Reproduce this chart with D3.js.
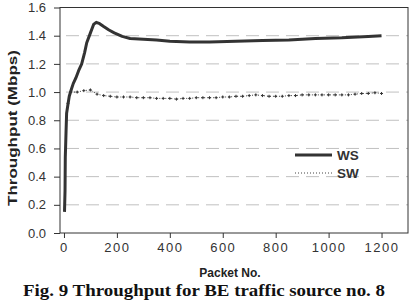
<!DOCTYPE html>
<html>
<head>
<meta charset="utf-8">
<script src="https://cdn.jsdelivr.net/npm/d3@7"></script>
<style>
  body { margin: 0; background: #fff; }
  .grid line { stroke: #c0c0c0; stroke-dasharray: 13,7; }
  .tick text { font-family: Arial, "Liberation Sans", sans-serif; font-size: 13px; fill: #333; }
  .x-axis .tick text { letter-spacing: 1.5px; }
</style>
</head>
<body>
<main></main>
<script>
// Data
const wsPackets = [2, 4, 5, 6, 8, 10, 14, 20, 28, 35, 45, 55, 67, 78, 86, 100, 112, 122, 135, 150, 170, 190, 220, 250, 300, 350, 400, 475, 550, 650, 750, 850, 950, 1050, 1150, 1200]
const wsValues = [0.15, 0.3, 0.54, 0.6, 0.73, 0.85, 0.9, 0.97, 1.02, 1.06, 1.10, 1.15, 1.20, 1.28, 1.35, 1.42, 1.48, 1.495, 1.485, 1.465, 1.44, 1.42, 1.395, 1.38, 1.375, 1.37, 1.36, 1.355, 1.355, 1.36, 1.365, 1.37, 1.38, 1.385, 1.395, 1.40]

const swPackets = [15, 25, 50, 75, 100, 125, 150, 175, 200, 225, 250, 275, 300, 325, 350, 375, 400, 425, 450, 475, 500, 525, 550, 575, 600, 625, 650, 675, 700, 725, 750, 775, 800, 825, 850, 875, 900, 925, 950, 975, 1000, 1025, 1050, 1075, 1100, 1125, 1150, 1175, 1200]
const swValues = [0.92, 1.00, 1.00, 1.01, 1.015, 0.985, 0.975, 0.97, 0.965, 0.965, 0.965, 0.96, 0.96, 0.96, 0.955, 0.955, 0.955, 0.95, 0.955, 0.955, 0.96, 0.96, 0.96, 0.96, 0.965, 0.965, 0.97, 0.97, 0.975, 0.98, 0.975, 0.97, 0.97, 0.97, 0.975, 0.975, 0.98, 0.98, 0.98, 0.98, 0.98, 0.98, 0.98, 0.98, 0.985, 0.99, 0.99, 0.995, 0.99]

const xTicks = [0, 200, 400, 600, 800, 1000, 1200]
const yTicks = [0, 0.2, 0.4, 0.6, 0.8, 1.0, 1.2, 1.4, 1.6]
const seriesNames = ['WS', 'SW']

function GeneratePlot() {
    const total_width = 411
    const height = 300
    const margin = {top: 7.5, right: 3, bottom: 67, left: 60}
    const width = total_width - margin.left - margin.right
    const plotHeight = height - margin.top - margin.bottom
    const sans = 'Arial, "Liberation Sans", sans-serif'

    const x = d3.scaleLinear().domain([-15, 1300]).range([0, width])
    const y = d3.scaleLinear().domain([0, 1.6]).range([plotHeight, 0])

    const svg = d3.select('main')
        .append('svg')
        .attr('width', total_width)
        .attr('height', height)

    const g = svg.append('g')
        .attr('transform', `translate(${margin.left},${margin.top})`)

    // Grid
    g.append('g')
        .classed('grid', true)
        .selectAll('line')
        .data(yTicks.filter(d => d > 0 && d < 1.6))
        .enter()
        .append('line')
        .attr('x1', 6)
        .attr('x2', width)
        .attr('y1', y)
        .attr('y2', y)

    // Axes
    const xAxis = g.append('g')
        .classed('x-axis', true)
        .attr('transform', `translate(0,${plotHeight})`)
        .call(d3.axisBottom(x).tickValues(xTicks).tickSize(5).tickPadding(5).tickFormat(d3.format('d')))
    const yAxis = g.append('g')
        .call(d3.axisLeft(y).tickValues(yTicks).tickSize(6).tickPadding(8).tickFormat(d3.format('.1f')))
    ;[xAxis, yAxis].forEach(a => {
        a.select('.domain').remove()
        a.selectAll('.tick line').attr('stroke', '#333')
    })

    // Frame
    g.append('rect')
        .attr('width', width)
        .attr('height', plotHeight)
        .attr('fill', 'none')
        .attr('stroke', '#333')
        .attr('stroke-width', 1)

    const line = d3.line()
        .x(d => x(d[0]))
        .y(d => y(d[1]))

    // SW
    const sw = d3.zip(swPackets, swValues)
    g.append('path')
        .datum(sw)
        .attr('d', line)
        .attr('fill', 'none')
        .attr('stroke', '#444')
        .attr('stroke-width', 1)
        .attr('stroke-dasharray', '1,2')
    g.append('g')
        .selectAll('path')
        .data(sw)
        .enter()
        .append('path')
        .attr('transform', d => `translate(${x(d[0])},${y(d[1])})`)
        .attr('d', 'M-1.5,0H1.5M0,-1.5V1.5')
        .attr('stroke', '#333')
        .attr('stroke-width', 1)

    // WS
    g.append('path')
        .datum(d3.zip(wsPackets, wsValues))
        .attr('d', line)
        .attr('fill', 'none')
        .attr('stroke', '#333')
        .attr('stroke-width', 3)
        .attr('stroke-linejoin', 'round')

    // Legend
    const legend = g.append('g')
        .attr('transform', `translate(235,147.5)`)
    seriesNames.forEach((name, i) => {
        const row = legend.append('g').attr('transform', `translate(0,${i * 18})`)
        row.append('line')
            .attr('x1', 0).attr('x2', 37)
            .attr('stroke', i === 0 ? '#333' : '#444')
            .attr('stroke-width', i === 0 ? 3 : 1)
            .attr('stroke-dasharray', i === 0 ? null : '1,2')
        row.append('text')
            .attr('x', 42)
            .attr('dy', '0.36em')
            .style('font-family', sans)
            .style('font-weight', 'bold')
            .style('font-size', '13.5px')
            .attr('fill', '#333')
            .text(name)
    })

    // Labels
    svg.append('text')
        .attr('x', margin.left + width / 2 - 4)
        .attr('y', 276.5)
        .attr('text-anchor', 'middle')
        .style('font-family', sans)
        .style('font-weight', 'bold')
        .style('font-size', '12px')
        .attr('fill', '#222')
        .text('Packet No.')

    svg.append('text')
        .attr('transform', 'translate(17,128) rotate(-90)')
        .attr('text-anchor', 'middle')
        .attr('textLength', 156)
        .attr('lengthAdjust', 'spacingAndGlyphs')
        .style('font-family', sans)
        .style('font-weight', 'bold')
        .style('font-size', '13px')
        .attr('fill', '#222')
        .text('Throughput (Mbps)')

    svg.append('text')
        .attr('x', 204)
        .attr('y', 296)
        .attr('text-anchor', 'middle')
        .attr('textLength', 362)
        .attr('lengthAdjust', 'spacingAndGlyphs')
        .style('font-family', '"Times New Roman", "Liberation Serif", serif')
        .style('font-weight', 'bold')
        .style('font-size', '17.5px')
        .attr('fill', '#111')
        .text('Fig. 9 Throughput for BE traffic source no. 8')
}

GeneratePlot()
</script>
</body>
</html>
